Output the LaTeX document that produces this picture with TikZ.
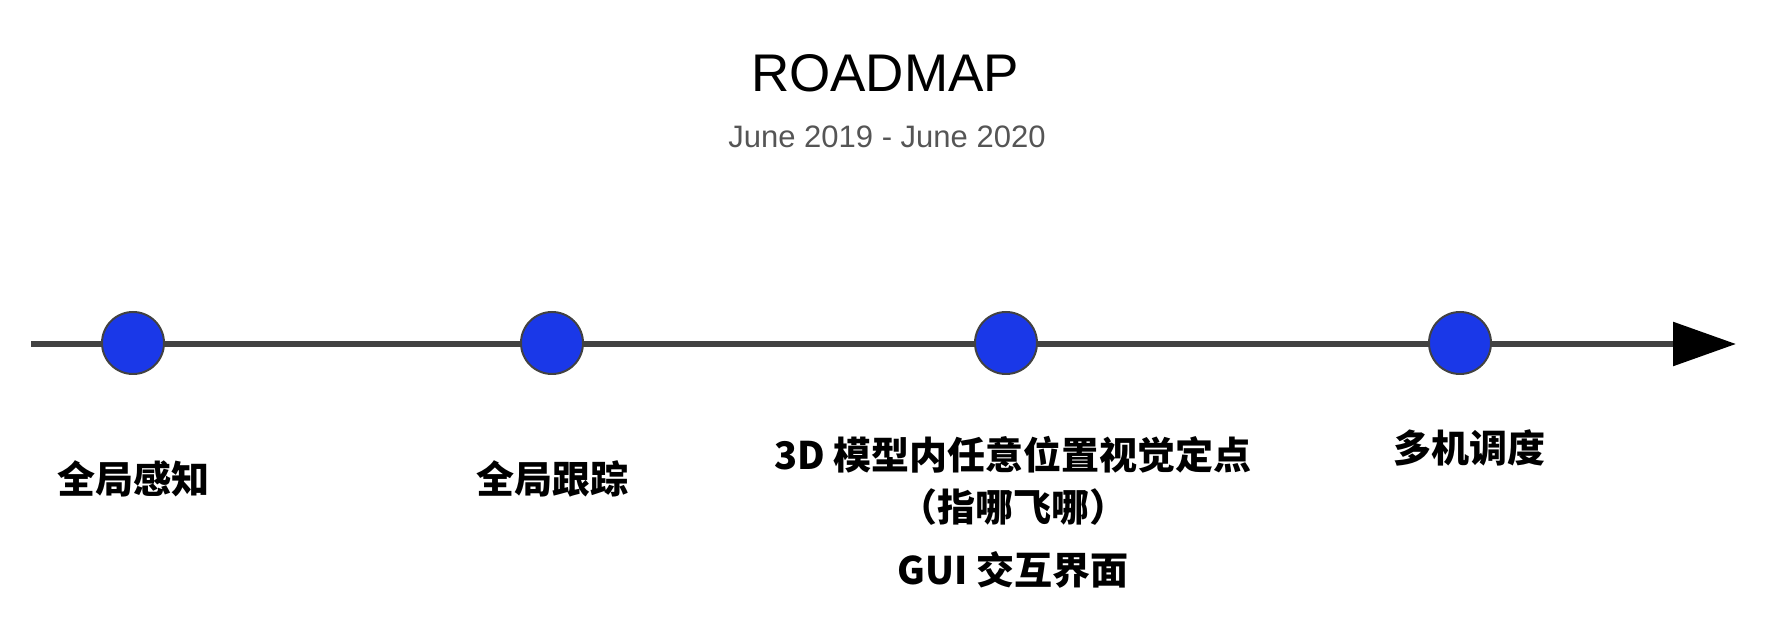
\documentclass[tikz,border=0pt]{standalone}
\usepackage{fontspec}
\setmainfont{Liberation Sans}
\newfontfamily\cjk{Noto Sans CJK SC}
\usetikzlibrary{arrows.meta}
\definecolor{ink}{HTML}{424242}
\definecolor{muted}{HTML}{555555}
\definecolor{pin}{HTML}{1A38E8}
\tikzset{
  ttl/.style={font=\fontsize{26.5}{30}\selectfont,text=black},
  sub/.style={font=\fontsize{15.5}{18}\selectfont,text=muted},
  mile/.style={circle,draw=ink,line width=1pt,fill=pin,minimum size=31pt,inner sep=0pt},
  lbl/.style={align=center,font=\cjk\bfseries\fontsize{19}{26}\selectfont,text=black},
  axis/.style={draw=ink,line width=2.9pt,-{Triangle[length=31.5pt,width=21.5pt,color=black]}},
}

\begin{document}
\begin{tikzpicture}[x=0.5pt,y=-0.5pt]
  \useasboundingbox (0,0) rectangle (1778,640);
  % title
  \node[ttl] (title) at (885,73) {ROADMAP};
  \node[sub] (span) at (887,137) {June 2019 - June 2020};
  % timeline
  \coordinate (start) at (31,344);
  \coordinate (end) at (1736,344);
  \draw[axis] (start) -- (end);
  \foreach \n/\x in {m1/133,m2/552,m3/1006,m4/1460}
    \node[mile] (\n) at (\x,343) {};
  % milestones
  \node[lbl] (t1) at (133,479) {全局感知};
  \node[lbl] (t2) at (552,479) {全局跟踪};
  \node[lbl] (t3) at (1013,481) {3D 模型内任意位置视觉定点\\（指哪飞哪）};
  \node[lbl] (t3b) at (1013,570) {GUI 交互界面};
  \node[lbl] (t4) at (1469,448) {多机调度};
\end{tikzpicture}
\end{document}
